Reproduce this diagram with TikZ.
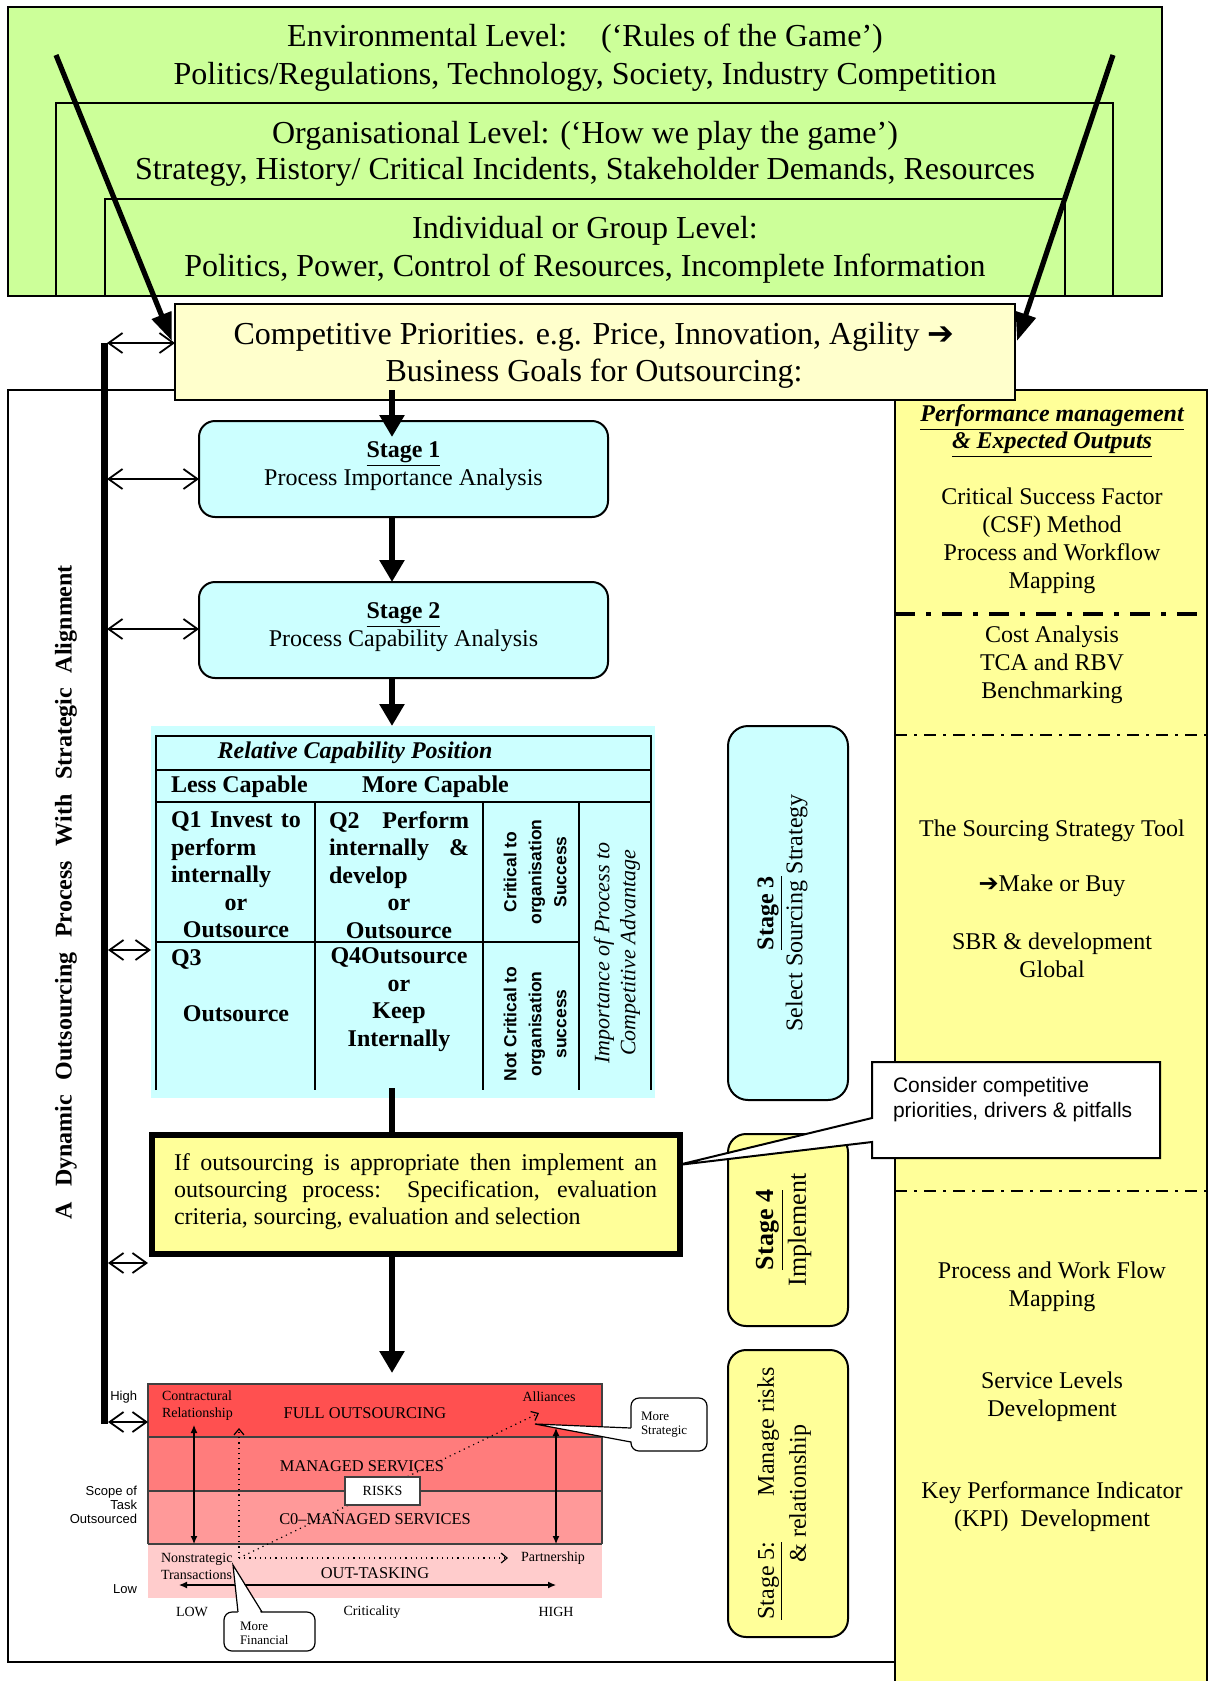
\documentclass[tikz,border=0pt]{standalone}
\usepackage{fontspec}
\setmainfont{Liberation Serif}
\newfontfamily\arialf{Liberation Sans}
\newfontfamily\dejavuf{DejaVu Sans}
\usetikzlibrary{arrows.meta,calc}
\definecolor{envgreen}{HTML}{CCFF99}
\definecolor{paleyel}{HTML}{FFFFCC}
\definecolor{yel}{HTML}{FFFF99}
\definecolor{cyanb}{HTML}{CCFFFF}
\definecolor{redA}{HTML}{FF5050}
\definecolor{redB}{HTML}{FF7C7C}
\definecolor{redC}{HTML}{FF9999}
\definecolor{redD}{HTML}{FFCCCC}
\definecolor{chartline}{HTML}{404040}
\newcommand{\myfs}[2]{\fontsize{#1}{#2}\selectfont}
\begin{document}
\begin{tikzpicture}[x=0.5pt,y=-0.5pt,
  every node/.style={inner sep=0pt,outer sep=0pt},
  bigarrow/.style={line width=2.6pt,-{Triangle[length=14pt,width=10pt]}},
  flow/.style={line width=3.2pt,-{Triangle[length=11pt,width=12pt]}},
  flowline/.style={line width=3.2pt},
  dbl/.style={line width=0.9pt,{Straight Barb[length=7pt,width=10pt]}-{Straight Barb[length=7pt,width=10pt]}},
  cyanstage/.style={draw,line width=1pt,fill=cyanb},
  yelstage/.style={draw,line width=1pt,fill=yel,rounded corners=9pt},
  boxline/.style={draw,line width=0.9pt},
  tline/.style={line width=0.9pt},
  rowline/.style={draw=chartline,line width=0.6pt},
  charr/.style={line width=0.6pt,{Latex[length=4pt,width=3.5pt]}-{Latex[length=4pt,width=3.5pt]}},
  dotarr/.style={dotted,line width=0.6pt,-{Straight Barb[length=3pt,width=5pt]}},
  bubblebox/.style={draw,line width=0.6pt,fill=white,rounded corners=4pt},
  ptrline/.style={line width=0.6pt},
  tA/.style={font=\myfs{16}{19},yshift=-1.5pt},
  tB/.style={font=\myfs{12}{14},yshift=-1.5pt},
  tQ/.style={font=\myfs{12}{13.75}\bfseries,yshift=-0.5pt},
  tS/.style={font=\arialf\bfseries\myfs{8.75}{12.5}},
  tchart/.style={font=\myfs{8.2}{9}},
  tsmall/.style={font=\myfs{7}{8.5}},
  tarial/.style={font=\arialf\myfs{6.5}{7}},
  ddthick/.style={line width=2pt,dash pattern=on 10pt off 5.5pt on 2.5pt off 5.5pt},
  ddthin/.style={line width=0.8pt,dash pattern=on 6pt off 3.5pt on 1.5pt off 3.5pt},
]
\useasboundingbox (0,0) rectangle (1208,1681);

% ---------- environment levels ----------
\node[boxline,line width=1pt,fill=envgreen,minimum width=577pt,minimum height=144.5pt] (env) at (585,151.5) {};
\node[boxline,minimum width=528.5pt,minimum height=96.5pt] (org) at (584.5,199.5) {};
\node[boxline,minimum width=480pt,minimum height=48.5pt] (ind) at (585,247.5) {};
\node[tA,align=center] (envt) at (585,55) {Environmental Level:\hspace{17pt}(‘Rules of the Game’)\\Politics/Regulations, Technology, Society, Industry Competition};
\node[font=\myfs{16}{18},align=center,yshift=-1.5pt] (orgt) at (585,151) {Organisational Level: (‘How we play the game’)\\Strategy, History/ Critical Incidents, Stakeholder Demands, Resources};
\node[tA,align=center] (indt) at (585,247) {Individual or Group Level:\\Politics, Power, Control of Resources, Incomplete Information};

% ---------- main frame and performance column ----------
\node[boxline,minimum width=443.5pt,minimum height=636pt] (main) at (451.5,1026) {};
\node[fill=yel,minimum width=156pt,minimum height=646pt] (perf) at (1051,1036) {};
\draw[line width=1pt] (perf.south west) -- (perf.north west) -- (perf.north east) -- (perf.south east);

% ---------- competitive priorities ----------
\node[boxline,line width=1pt,fill=paleyel,minimum width=420pt,minimum height=48pt] (comp) at (595,352) {};
\node[font=\myfs{16}{18.5},align=center,yshift=-1.5pt] (compt) at (594,352.5) {Competitive Priorities. e.g. Price, Innovation, Agility {\dejavuf ➔}\\Business Goals for Outsourcing:};

\coordinate (tlA) at (56,55); \coordinate (tlB) at (172,341);
\coordinate (trA) at (1113,55); \coordinate (trB) at (1017,341);
\draw[bigarrow] (tlA) -- (tlB);
\draw[bigarrow] (trA) -- (trB);

% ---------- right column texts ----------
\node[font=\myfs{12}{13.5}\bfseries\itshape,align=center,yshift=-1.5pt] (pmt) at (1052,428) {\underline{Performance management}\\\underline{\& Expected Outputs}};
\node[tB,align=center] (csf) at (1052,538) {Critical Success Factor\\(CSF) Method\\Process and Workflow\\Mapping};
\node[tB,align=center] (cost) at (1052,662) {Cost Analysis\\TCA and RBV\\Benchmarking};
\node[tB] (sst) at (1052,828) {The Sourcing Strategy Tool};
\node[tB] (mob) at (1052,883) {{\dejavuf ➔}Make or Buy};
\node[tB,align=center] (sbr) at (1052,952.5) {SBR \& development\\Global};
\node[tB,align=center] (pwf) at (1052,1283.5) {Process and Work Flow\\Mapping};
\node[tB,align=center] (sld) at (1052,1393.5) {Service Levels\\Development};
\node[tB,align=center] (kpi) at (1052,1504) {Key Performance Indicator\\(KPI)\ \ Development};
\coordinate (dd1) at (895,614);
\draw[ddthick] (dd1) -- (dd1 -| perf.east);
\coordinate (dd2) at (895,735);
\draw[ddthin] (dd2) -- (dd2 -| perf.east);
\coordinate (dd3) at (895,1191);
\draw[ddthin] (dd3) -- (dd3 -| perf.east);

% ---------- stages 1 and 2 ----------
\node[cyanstage,rounded corners=8pt,minimum width=204.5pt,minimum height=48pt] (s1) at (403.5,469) {};
\node[tB,align=center] (s1t) at (403.5,463) {\underline{\textbf{Stage 1}}\\Process Importance Analysis};
\node[cyanstage,rounded corners=8pt,minimum width=204.5pt,minimum height=48pt] (s2) at (403.5,630) {};
\node[tB,align=center] (s2t) at (403.5,624) {\underline{\textbf{Stage 2}}\\Process Capability Analysis};

% ---------- capability table ----------
\node[fill=cyanb,minimum width=252pt,minimum height=186pt] (tbg) at (403,912) {};
\draw[tline] (156,1090) -- (156,736) -- (651,736) -- (651,1090);
\draw[tline] (156,770) -- (651,770);
\draw[tline] (156,802) -- (651,802);
\draw[tline] (156,942) -- (579,942);
\draw[tline] (315,802) -- (315,1090);
\draw[tline] (483,802) -- (483,1090);
\draw[tline] (579,802) -- (579,1090);
\node[font=\myfs{12}{14}\bfseries\itshape,yshift=-0.5pt] (rcp) at (355,752) {Relative Capability Position};
\node[tQ,anchor=west] (lc) at (171,786) {Less Capable};
\node[tQ,anchor=west] (mc) at (362,786) {More Capable};
\node[tQ,align=left,anchor=west] (q1) at (171,874) {\makebox[65pt][s]{Q1 Invest to}\\perform\\internally\\\makebox[65pt]{or}\\\makebox[65pt]{Outsource}};
\node[tQ,align=left,anchor=west] (q2) at (329,874) {\makebox[70pt][s]{Q2 Perform}\\\makebox[70pt][s]{internally \&}\\develop\\\makebox[70pt]{or}\\\makebox[70pt]{Outsource}};
\node[tQ,anchor=west] (q3) at (171,958) {Q3};
\node[tQ] (q3o) at (236,1013) {Outsource};
\node[tQ,align=center] (q4) at (399,998.5) {Q4Outsource\\or\\Keep\\Internally};
\node[tS,rotate=90,align=center] (crit) at (535,872) {Critical to\\organisation\\Success};
\node[tS,rotate=90,align=center] (ncrit) at (535,1024) {Not Critical to\\organisation\\success};
\node[font=\myfs{11}{13}\itshape,rotate=90,align=center] (imp) at (617,953) {Importance of Process to\\Competitive Advantage};

% ---------- implementation box ----------
\node[boxline,line width=3.2pt,fill=yel,minimum width=264pt,minimum height=59.5pt] (impl) at (416,1194.5) {};
\node[font=\myfs{12}{14},yshift=-0.8pt] (implt) at (415.5,1190) {\begin{tabular}{@{}l@{}}\makebox[241.5pt][s]{If outsourcing is appropriate then implement an}\\[-0.5pt]\makebox[241.5pt][s]{outsourcing process: Specification, evaluation}\\[-0.5pt]\makebox[241.5pt][l]{criteria, sourcing, evaluation and selection}\end{tabular}};

% ---------- stages 3, 4, 5 ----------
\node[cyanstage,rounded corners=10pt,minimum width=60pt,minimum height=187pt] (s3) at (788,913) {};
\node[rotate=90,font=\myfs{12}{14.5},align=center] (s3t) at (782.5,913) {\underline{\textbf{Stage 3}}\\Select Sourcing Strategy};
\node[yelstage,minimum width=60pt,minimum height=96pt] (s4) at (788,1230) {};
\node[rotate=90,font=\myfs{13}{16},align=center] (s4t) at (784,1230) {\underline{\textbf{Stage 4}}\\Implement};
\node[yelstage,minimum width=60pt,minimum height=143.5pt] (s5) at (788,1493.5) {};
\node[rotate=90,font=\myfs{12}{16},align=center] (s5t) at (784,1493.5) {\makebox[126pt][l]{\underline{Stage 5:}\hfill Manage risks}\\\& relationship};

% ---------- callout ----------
\node[minimum width=144pt,minimum height=48pt] (cb) at (1016,1110) {};
\coordinate (cbtip) at (678,1165);
\draw[line width=1pt,fill=white] (cb.north west) -- (cb.north east) -- (cb.south east) -- (cb.south west) -- ($(cb.west)+(0,32)$) -- (cbtip) -- ($(cb.west)+(0,8)$) -- cycle;
\node[font=\arialf\myfs{10.5}{12.5},align=left,anchor=west,yshift=-1pt] (cbt) at (893,1097.5) {Consider competitive\\priorities, drivers \& pitfalls};

% ---------- outsourcing chart ----------
\node[minimum width=227pt,minimum height=107pt] (chart) at (375,1491) {};
\fill[redA] (148,1384) rectangle (602,1437);
\fill[redB] (148,1437) rectangle (602,1491);
\fill[redC] (148,1491) rectangle (602,1544);
\fill[redD] (148,1544) rectangle (602,1598);
\draw[rowline] (148,1544) -- (148,1384) -- (602,1384) -- (602,1544);
\draw[rowline] (148,1437) -- (602,1437);
\draw[rowline] (148,1491) -- (602,1491);
\draw[rowline] (148,1544) -- (602,1544);
\node[tsmall,align=left,anchor=west] (contr) at (162,1405.5) {Contractural\\Relationship};
\node[tchart] (fullo) at (365,1413) {FULL OUTSOURCING};
\node[tsmall] (alli) at (549,1397) {Alliances};
\node[tchart] (mans) at (362,1466) {MANAGED SERVICES};
\node[tchart] (comans) at (375,1519) {C0–MANAGED SERVICES};
\node[tsmall,align=left,anchor=west] (nonst) at (161,1566) {Nonstrategic\\Transactions};
\node[tsmall] (partn) at (553,1558) {Partnership};
\node[tchart] (outt) at (375,1573) {OUT-TASKING};
\node[tsmall] (lowx) at (192,1612) {LOW};
\node[tsmall] (critx) at (372,1612) {Criticality};
\node[tsmall] (highx) at (556,1612) {HIGH};
\node[tarial,anchor=east] (highy) at (137,1397) {High};
\node[tarial,anchor=east,align=right] (scope) at (137,1505) {Scope of\\Task\\Outsourced};
\node[tarial,anchor=east] (lowy) at (137,1589) {Low};
\coordinate (lvt) at (194,1425); \coordinate (lvb) at (194,1544);
\draw[charr] (lvt) -- (lvb);
\coordinate (rvt) at (556,1428); \coordinate (rvb) at (556,1544);
\draw[charr] (rvt) -- (rvb);
\coordinate (hl) at (179,1585); \coordinate (hr) at (556,1585);
\draw[charr] (hl) -- (hr);
\coordinate (orig) at (239,1558);
\coordinate (dup) at (239,1428);
\coordinate (drt) at (508,1558);
\coordinate (ddg) at (539,1413);
\draw[dotarr] (orig) -- (dup);
\draw[dotarr] (orig) -- (drt);
\draw[dotarr] (orig) -- (ddg);
\node[draw=chartline,line width=0.7pt,fill=white,minimum width=37.5pt,minimum height=14pt,font=\myfs{7}{8}] (risks) at (382.5,1491) {RISKS};

\node[bubblebox,minimum width=38pt,minimum height=26.5pt] (ms) at (669,1424.5) {};
\coordinate (mstip) at (535,1424);
\fill[white] ($(ms.west)+(3,3.5)$) -- (mstip) -- ($(ms.west)+(3,17.5)$) -- cycle;
\draw[ptrline] ($(ms.west)+(0,3.5)$) -- (mstip) -- ($(ms.west)+(0,17.5)$);
\node[font=\myfs{6.5}{7},align=left,anchor=west] (mst) at (641,1424.5) {More\\Strategic};

\node[bubblebox,minimum width=45.5pt,minimum height=19.5pt] (mf) at (269.5,1631.5) {};
\coordinate (mftip) at (233,1565);
\fill[white] ($(mf.north west)+(14,3)$) -- (mftip) -- ($(mf.north west)+(38,3)$) -- cycle;
\draw[ptrline] ($(mf.north west)+(14,0)$) -- (mftip) -- ($(mf.north west)+(38,0)$);
\node[font=\myfs{6.5}{7},align=left,anchor=west] (mft) at (240,1633) {More\\Financial};

% ---------- flow arrows ----------
\coordinate (ax) at (392,0);
\draw[flow] ($(comp.south -| ax)+(0,-10)$) -- ($(s1.north -| ax)+(0,16)$);
\draw[flow] (s1.south -| ax) -- (s2.north -| ax);
\draw[flow] (s2.south -| ax) -- (tbg.north -| ax);
\draw[flowline] ($(tbg.south -| ax)+(0,-10)$) -- (impl.north -| ax);
\draw[flow] (impl.south -| ax) -- ($(chart.north -| ax)+(0,-11)$);

% ---------- strategic alignment bar ----------
\coordinate (vtop) at (104,343); \coordinate (vbot) at (104,1424);
\draw[line width=3.5pt] (vtop) -- (vbot);
\node[rotate=90,font=\myfs{12}{14}\bfseries] (vt) at (66,892) {\makebox[327pt][s]{A Dynamic Outsourcing Process With Strategic Alignment}};
\coordinate (d1) at (107,343); \draw[dbl] (d1) -- (comp.west |- d1);
\coordinate (d2) at (107,479); \draw[dbl] (d2) -- (s1.west |- d2);
\coordinate (d3) at (107,629); \draw[dbl] (d3) -- (s2.west |- d3);
\coordinate (d4) at (108,950); \draw[dbl] (d4) -- (tbg.west |- d4);
\coordinate (d5) at (108,1263); \coordinate (d5e) at (148,1263); \draw[dbl] (d5) -- (d5e);
\coordinate (d6) at (108,1422); \draw[dbl] (d6) -- (chart.west |- d6);
\end{tikzpicture}
\end{document}
